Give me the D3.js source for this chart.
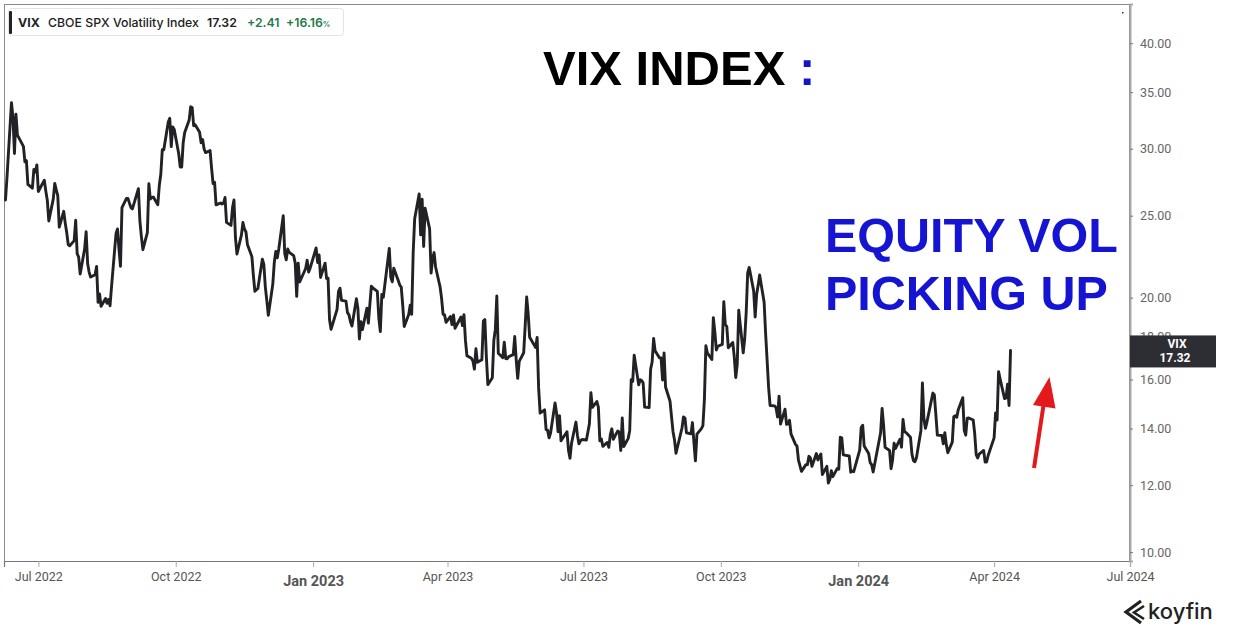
<!DOCTYPE html>
<html>
<head>
<meta charset="utf-8">
<script src="https://cdn.jsdelivr.net/npm/d3@7"></script>
<style>
  html, body { margin: 0; padding: 0; background: #fff; }
  svg { display: block; }
</style>
</head>
<body>
<svg id="chart" width="1234" height="636"></svg>
<script>
// ---------------- DATA (VIX daily close) ----------------
const dates = [
"2022-06-09","2022-06-10","2022-06-13","2022-06-14","2022-06-15","2022-06-16","2022-06-17","2022-06-21","2022-06-22","2022-06-23","2022-06-24","2022-06-27","2022-06-28","2022-06-29","2022-06-30",
"2022-07-01","2022-07-05","2022-07-06","2022-07-07","2022-07-08","2022-07-11","2022-07-12","2022-07-13","2022-07-14","2022-07-15","2022-07-18","2022-07-19","2022-07-20","2022-07-21","2022-07-22","2022-07-25","2022-07-26","2022-07-27","2022-07-28","2022-07-29",
"2022-08-01","2022-08-02","2022-08-03","2022-08-04","2022-08-05","2022-08-08","2022-08-09","2022-08-10","2022-08-11","2022-08-12","2022-08-15","2022-08-16","2022-08-17","2022-08-18","2022-08-19","2022-08-22","2022-08-23","2022-08-24","2022-08-25","2022-08-26","2022-08-29","2022-08-30","2022-08-31",
"2022-09-01","2022-09-02","2022-09-06","2022-09-07","2022-09-08","2022-09-09","2022-09-12","2022-09-13","2022-09-14","2022-09-15","2022-09-16","2022-09-19","2022-09-20","2022-09-21","2022-09-22","2022-09-23","2022-09-26","2022-09-27","2022-09-28","2022-09-29","2022-09-30",
"2022-10-03","2022-10-04","2022-10-05","2022-10-06","2022-10-07","2022-10-10","2022-10-11","2022-10-12","2022-10-13","2022-10-14","2022-10-17","2022-10-18","2022-10-19","2022-10-20","2022-10-21","2022-10-24","2022-10-25","2022-10-26","2022-10-27","2022-10-28","2022-10-31",
"2022-11-01","2022-11-02","2022-11-03","2022-11-04","2022-11-07","2022-11-08","2022-11-09","2022-11-10","2022-11-11","2022-11-14","2022-11-15","2022-11-16","2022-11-17","2022-11-18","2022-11-21","2022-11-22","2022-11-23","2022-11-25","2022-11-28","2022-11-29","2022-11-30",
"2022-12-01","2022-12-02","2022-12-05","2022-12-06","2022-12-07","2022-12-08","2022-12-09","2022-12-12","2022-12-13","2022-12-14","2022-12-15","2022-12-16","2022-12-19","2022-12-20","2022-12-21","2022-12-22","2022-12-23","2022-12-27","2022-12-28","2022-12-29","2022-12-30",
"2023-01-03","2023-01-04","2023-01-05","2023-01-06","2023-01-09","2023-01-10","2023-01-11","2023-01-12","2023-01-13","2023-01-17","2023-01-18","2023-01-19","2023-01-20","2023-01-23","2023-01-24","2023-01-25","2023-01-26","2023-01-27","2023-01-30","2023-01-31",
"2023-02-01","2023-02-02","2023-02-03","2023-02-06","2023-02-07","2023-02-08","2023-02-09","2023-02-10","2023-02-13","2023-02-14","2023-02-15","2023-02-16","2023-02-17","2023-02-21","2023-02-22","2023-02-23","2023-02-24","2023-02-27","2023-02-28",
"2023-03-01","2023-03-02","2023-03-03","2023-03-06","2023-03-07","2023-03-08","2023-03-09","2023-03-10","2023-03-13","2023-03-14","2023-03-15","2023-03-16","2023-03-17","2023-03-20","2023-03-21","2023-03-22","2023-03-23","2023-03-24","2023-03-27","2023-03-28","2023-03-29","2023-03-30","2023-03-31",
"2023-04-03","2023-04-04","2023-04-05","2023-04-06","2023-04-10","2023-04-11","2023-04-12","2023-04-13","2023-04-14","2023-04-17","2023-04-18","2023-04-19","2023-04-20","2023-04-21","2023-04-24","2023-04-25","2023-04-26","2023-04-27","2023-04-28",
"2023-05-01","2023-05-02","2023-05-03","2023-05-04","2023-05-05","2023-05-08","2023-05-09","2023-05-10","2023-05-11","2023-05-12","2023-05-15","2023-05-16","2023-05-17","2023-05-18","2023-05-19","2023-05-22","2023-05-23","2023-05-24","2023-05-25","2023-05-26","2023-05-30","2023-05-31",
"2023-06-01","2023-06-02","2023-06-05","2023-06-06","2023-06-07","2023-06-08","2023-06-09","2023-06-12","2023-06-13","2023-06-14","2023-06-15","2023-06-16","2023-06-20","2023-06-21","2023-06-22","2023-06-23","2023-06-26","2023-06-27","2023-06-28","2023-06-29","2023-06-30",
"2023-07-03","2023-07-05","2023-07-06","2023-07-07","2023-07-10","2023-07-11","2023-07-12","2023-07-13","2023-07-14","2023-07-17","2023-07-18","2023-07-19","2023-07-20","2023-07-21","2023-07-24","2023-07-25","2023-07-26","2023-07-27","2023-07-28","2023-07-31",
"2023-08-01","2023-08-02","2023-08-03","2023-08-04","2023-08-07","2023-08-08","2023-08-09","2023-08-10","2023-08-11","2023-08-14","2023-08-15","2023-08-16","2023-08-17","2023-08-18","2023-08-21","2023-08-22","2023-08-23","2023-08-24","2023-08-25","2023-08-28","2023-08-29","2023-08-30","2023-08-31",
"2023-09-01","2023-09-05","2023-09-06","2023-09-07","2023-09-08","2023-09-11","2023-09-12","2023-09-13","2023-09-14","2023-09-15","2023-09-18","2023-09-19","2023-09-20","2023-09-21","2023-09-22","2023-09-25","2023-09-26","2023-09-27","2023-09-28","2023-09-29",
"2023-10-02","2023-10-03","2023-10-04","2023-10-05","2023-10-06","2023-10-09","2023-10-10","2023-10-11","2023-10-12","2023-10-13","2023-10-16","2023-10-17","2023-10-18","2023-10-19","2023-10-20","2023-10-23","2023-10-24","2023-10-25","2023-10-26","2023-10-27","2023-10-30","2023-10-31",
"2023-11-01","2023-11-02","2023-11-03","2023-11-06","2023-11-07","2023-11-08","2023-11-09","2023-11-10","2023-11-13","2023-11-14","2023-11-15","2023-11-16","2023-11-17","2023-11-20","2023-11-21","2023-11-22","2023-11-24","2023-11-27","2023-11-28","2023-11-29","2023-11-30",
"2023-12-01","2023-12-04","2023-12-05","2023-12-06","2023-12-07","2023-12-08","2023-12-11","2023-12-12","2023-12-13","2023-12-14","2023-12-15","2023-12-18","2023-12-19","2023-12-20","2023-12-21","2023-12-22","2023-12-26","2023-12-27","2023-12-28","2023-12-29",
"2024-01-02","2024-01-03","2024-01-04","2024-01-05","2024-01-08","2024-01-09","2024-01-10","2024-01-11","2024-01-12","2024-01-16","2024-01-17","2024-01-18","2024-01-19","2024-01-22","2024-01-23","2024-01-24","2024-01-25","2024-01-26","2024-01-29","2024-01-30","2024-01-31",
"2024-02-01","2024-02-02","2024-02-05","2024-02-06","2024-02-07","2024-02-08","2024-02-09","2024-02-12","2024-02-13","2024-02-14","2024-02-15","2024-02-16","2024-02-20","2024-02-21","2024-02-22","2024-02-23","2024-02-26","2024-02-27","2024-02-28","2024-02-29",
"2024-03-01","2024-03-04","2024-03-05","2024-03-06","2024-03-07","2024-03-08","2024-03-11","2024-03-12","2024-03-13","2024-03-14","2024-03-15","2024-03-18","2024-03-19","2024-03-20","2024-03-21","2024-03-22","2024-03-25","2024-03-26","2024-03-27","2024-03-28",
"2024-04-01","2024-04-02","2024-04-03","2024-04-04","2024-04-05","2024-04-08","2024-04-09","2024-04-10","2024-04-11","2024-04-12"
];
const vix = [
26.09,27.75,34.02,32.69,29.62,32.95,31.13,30.19,28.95,29.05,27.23,26.95,28.36,28.16,28.71,
26.70,27.54,26.73,26.08,24.64,26.17,27.29,26.82,26.40,24.23,25.30,24.50,23.88,23.11,23.03,23.36,24.69,22.54,22.33,21.33,
22.84,23.93,21.95,21.44,21.15,21.29,21.77,19.74,20.20,19.53,19.95,19.69,19.90,19.56,20.60,23.80,24.11,22.82,21.78,25.56,26.21,26.21,25.87,
25.56,25.47,26.91,24.64,23.61,22.79,23.87,27.27,26.16,26.27,26.30,25.76,27.16,27.99,29.92,29.92,32.26,32.60,30.18,31.84,31.62,
29.59,28.55,28.55,30.52,31.36,32.45,33.63,33.57,31.94,32.02,31.37,30.50,30.76,29.98,29.69,29.85,28.46,27.28,27.39,25.75,25.88,
25.81,25.86,26.27,24.55,24.35,25.54,26.09,23.53,22.52,23.73,24.54,24.11,23.93,23.12,22.36,21.24,20.35,20.50,22.21,21.89,20.58,
19.84,19.06,20.75,22.01,22.68,22.29,22.83,25.00,22.55,22.17,22.83,22.62,22.42,21.97,20.07,21.97,20.87,21.65,22.14,21.44,21.67,
22.90,22.01,22.46,21.13,21.97,21.07,21.09,18.83,18.35,19.36,20.34,20.52,19.85,19.81,19.20,19.08,18.73,18.51,19.94,19.40,
17.87,18.73,18.33,19.43,18.66,19.63,20.63,20.53,20.34,18.91,18.23,20.17,20.02,22.87,21.14,20.88,21.67,20.95,20.70,
20.58,19.59,18.49,19.10,19.59,19.11,22.61,24.80,26.52,23.73,26.14,22.99,25.51,24.12,21.38,22.26,22.61,21.74,20.60,19.97,19.12,19.08,18.70,
19.00,18.58,19.08,18.40,18.97,18.53,19.09,17.80,17.07,16.95,16.83,16.46,17.40,16.77,16.89,18.76,18.84,17.03,15.78,
16.08,17.78,18.34,20.09,17.19,16.98,17.71,16.94,16.93,17.03,17.12,17.99,16.87,16.05,16.81,17.21,18.53,20.03,19.14,17.95,17.46,17.94,
15.65,14.60,14.73,13.96,13.94,13.65,13.83,15.01,14.61,13.88,14.50,13.54,13.88,13.20,12.91,13.44,14.25,13.74,13.43,13.54,13.59,
13.57,14.18,15.44,14.83,15.07,14.84,13.54,13.61,13.34,13.48,13.30,13.76,13.99,13.60,13.91,13.86,13.19,14.41,13.33,13.63,
13.93,15.99,15.92,17.10,15.77,15.99,15.96,15.85,14.84,14.82,16.46,16.78,17.89,17.30,16.97,16.97,15.98,17.20,15.68,15.08,14.45,13.88,13.57,
13.09,14.02,14.45,14.40,13.84,13.80,14.23,13.48,12.82,13.79,14.00,14.11,15.14,17.54,17.20,16.90,18.94,18.22,17.34,17.52,
17.61,19.78,18.58,18.49,17.45,17.70,17.03,16.09,16.69,19.32,17.21,17.88,19.22,21.40,21.71,20.37,18.97,20.19,20.68,21.27,19.75,18.14,
16.87,15.66,14.91,14.89,14.81,14.45,15.29,14.17,14.76,14.16,14.18,14.32,13.80,13.41,13.35,12.85,12.46,12.69,12.69,12.98,12.92,
12.63,13.08,12.85,12.97,13.06,12.35,12.63,12.07,12.19,12.48,12.28,12.56,12.53,13.67,13.65,13.03,12.99,12.43,12.47,12.45,
13.20,14.04,14.13,13.35,13.08,12.76,12.69,12.44,12.70,13.84,14.79,14.13,13.30,13.19,12.55,12.84,13.45,13.26,13.60,13.31,14.35,
13.88,13.85,13.67,13.06,12.83,12.79,12.93,13.93,15.85,14.38,14.01,14.24,15.42,15.34,14.54,13.75,13.74,13.43,13.84,13.40,
13.11,13.49,14.46,14.50,14.44,14.74,15.23,13.93,13.75,14.40,14.41,14.33,13.82,13.04,12.92,13.06,13.19,12.78,12.78,13.01,
13.65,14.61,14.33,16.35,16.03,15.19,15.22,15.80,14.91,17.32
];
const yTicks = [10, 12, 14, 16, 18, 20, 25, 30, 35, 40];
const xTickDates = ["2022-07-01","2022-10-01","2023-01-01","2023-04-01","2023-07-01","2023-10-01","2024-01-01","2024-04-01","2024-07-01"];
const xTickLabels = ["Jul 2022","Oct 2022","Jan 2023","Apr 2023","Jul 2023","Oct 2023","Jan 2024","Apr 2024","Jul 2024"];
const yearStartLabels = ["Jan 2023","Jan 2024"];
const domainDates = ["2022-06-08","2024-07-01"];
const yDomain = [9.76, 44.5];
const legend = { ticker: "VIX", name: "CBOE SPX Volatility Index", last: "17.32", chg: "+2.41", pct: "+16.16" };

// ---------------- CHART ----------------
const parse = d3.utcParse("%Y-%m-%d");
const data = dates.map((d, i) => ({ date: parse(d), value: vix[i] }));

const L = 4, R = 1130, T = 4, B = 561;
const svg = d3.select("#chart");

const x = d3.scaleUtc().domain(domainDates.map(parse)).range([L, R]);
const y = d3.scaleLog().domain(yDomain).range([B, T]);

// frame
svg.append("rect").attr("x", L + 0.5).attr("y", T + 0.5)
  .attr("width", R - L - 1).attr("height", B - T)
  .attr("fill", "none").attr("stroke", "#8a8a8a").attr("stroke-width", 1);

// tiny dot top right
svg.append("rect").attr("x", 1122).attr("y", 12).attr("width", 1.5).attr("height", 1.5).attr("fill", "#333");

// x axis
const xAxis = d3.axisBottom(x)
  .tickValues(xTickDates.map(parse))
  .tickFormat((d, i) => xTickLabels[i])
  .tickSize(6).tickPadding(5);
const gx = svg.append("g").attr("transform", `translate(0,${B})`).call(xAxis);
gx.select(".domain").attr("stroke", "#777").attr("stroke-width", 1.2);
gx.selectAll(".tick line").attr("stroke", "#aaa");
gx.selectAll(".tick text")
  .attr("font-family", "Roboto, 'Noto Sans', sans-serif")
  .attr("font-size", 12.5).attr("fill", "#555")
  .each(function(d, i) {
    if (yearStartLabels.includes(xTickLabels[i])) {
      d3.select(this).attr("font-size", 14.5).attr("font-weight", 700).attr("fill", "#555").attr("dy", "0.95em");
    }
  });

// y axis (right)
const yAxis = d3.axisRight(y).tickValues(yTicks).tickFormat(d3.format(".2f")).tickSize(3).tickPadding(7);
const gy = svg.append("g").attr("transform", `translate(${R},0)`).call(yAxis);
gy.select(".domain").attr("stroke", "#aaa").attr("stroke-width", 2);
gy.selectAll(".tick line").attr("stroke", "#777");
gy.selectAll(".tick text")
  .attr("font-family", "Roboto, 'Noto Sans', sans-serif")
  .attr("font-size", 12.5).attr("fill", "#666");

// line
const line = d3.line().x(d => x(d.date)).y(d => y(d.value)).curve(d3.curveLinear);
svg.append("path").datum(data).attr("d", line)
  .attr("fill", "none").attr("stroke", "#222226").attr("stroke-width", 2.9)
  .attr("stroke-linejoin", "round").attr("stroke-linecap", "round");

// last value badge
const last = data[data.length - 1];
const by = y(last.value);
svg.append("rect").attr("x", R).attr("y", by - 15).attr("width", 86).attr("height", 32).attr("fill", "#2d2e33");
svg.append("text").attr("x", R + 47).attr("y", by - 2).attr("text-anchor", "middle")
  .attr("font-family", "Roboto, sans-serif").attr("font-size", 12).attr("font-weight", 700).attr("fill", "#fff").text(legend.ticker);
svg.append("text").attr("x", R + 45).attr("y", by + 12).attr("text-anchor", "middle")
  .attr("font-family", "Roboto, sans-serif").attr("font-size", 12).attr("font-weight", 700).attr("fill", "#fff").text(legend.last);

// legend box
const lg = svg.append("g");
lg.append("rect").attr("x", 8.5).attr("y", 8.5).attr("width", 335).attr("height", 27).attr("rx", 3)
  .attr("fill", "#fff").attr("stroke", "#e4e4e4");
lg.append("rect").attr("x", 9).attr("y", 11).attr("width", 3).attr("height", 23).attr("rx", 1).attr("fill", "#222");
const lt = lg.append("text").attr("y", 27).attr("font-family", "Inter, Roboto, sans-serif").attr("font-size", 12.3);
lt.append("tspan").attr("x", 18).attr("font-weight", 700).attr("fill", "#222").text(legend.ticker);
lt.append("tspan").attr("x", 48).attr("font-weight", 500).attr("fill", "#222").text(legend.name);
lt.append("tspan").attr("x", 207).attr("font-weight", 600).attr("fill", "#222").text(legend.last);
lt.append("tspan").attr("x", 247).attr("font-weight", 600).attr("fill", "#1f7a4d").text(legend.chg);
lt.append("tspan").attr("x", 286).attr("font-weight", 600).attr("fill", "#1f7a4d").text(legend.pct);
lt.append("tspan").attr("font-size", 7.5).attr("font-weight", 600).attr("fill", "#1f7a4d").text("%");

// annotations
const title = svg.append("text").attr("x", 543).attr("y", 85)
  .attr("font-family", "'Liberation Sans', Arial, sans-serif").attr("font-weight", 700).attr("font-size", 49);
title.append("tspan").attr("fill", "#000").text("VIX INDEX");
title.append("tspan").attr("fill", "#1515c8").text(" :");

svg.append("text").attr("x", 825).attr("y", 252)
  .attr("font-family", "'Liberation Sans', Arial, sans-serif").attr("font-weight", 700).attr("font-size", 48.5)
  .attr("fill", "#1414d2").text("EQUITY VOL");
svg.append("text").attr("x", 825).attr("y", 310)
  .attr("font-family", "'Liberation Sans', Arial, sans-serif").attr("font-weight", 700).attr("font-size", 48.5)
  .attr("fill", "#1414d2").text("PICKING UP");

// red arrow
svg.append("line").attr("x1", 1034).attr("y1", 468).attr("x2", 1044).attr("y2", 402)
  .attr("stroke", "#e3191c").attr("stroke-width", 4);
svg.append("path").attr("d", "M1049.5,377 L1033,405 L1055.5,408.5 Z").attr("fill", "#e3191c");

// koyfin logo
const logo = svg.append("g");
logo.append("path").attr("d", "M1141,601 L1126,612 L1141,623").attr("fill", "none").attr("stroke", "#222").attr("stroke-width", 3.2).attr("stroke-linejoin", "miter");
logo.append("path").attr("d", "M1144,606 L1134,612.5 L1144,619").attr("fill", "none").attr("stroke", "#222").attr("stroke-width", 2.6);
logo.append("text").attr("x", 1148).attr("y", 619)
  .attr("font-family", "Inter, Roboto, sans-serif").attr("font-size", 22).attr("font-weight", 500)
  .attr("fill", "#222").text("koyfin");
</script>
</body>
</html>
